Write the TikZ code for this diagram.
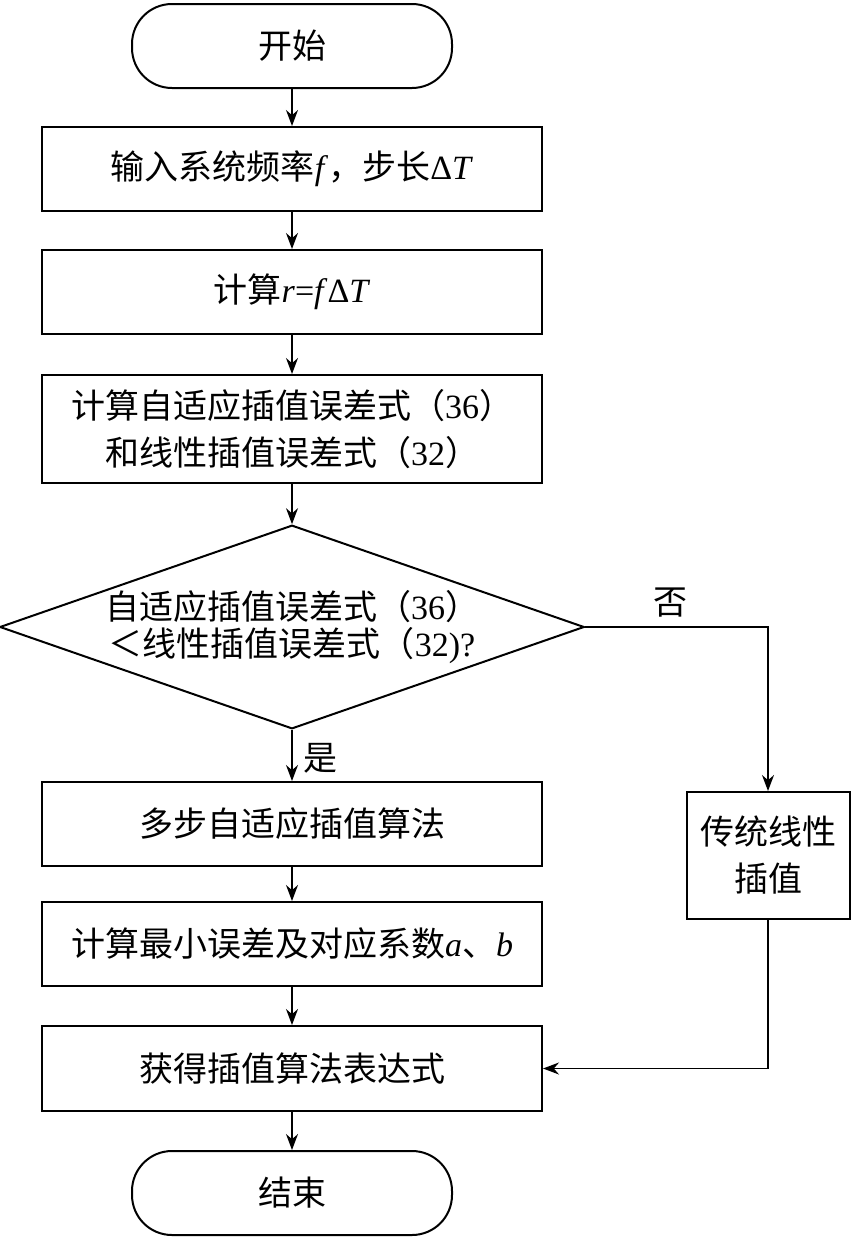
\documentclass[tikz,border=0pt]{standalone}
\usepackage{fontspec}
\setmainfont{Liberation Serif}
\newfontfamily\cjk{Noto Sans CJK SC}
\usetikzlibrary{arrows.meta,shapes.geometric}
\begin{document}
\begin{tikzpicture}[x=1pt,y=-1pt,
 base/.style={draw, line width=2pt, inner sep=0pt, align=center, font=\fontsize{34}{47}\selectfont},
 proc/.style={base, rectangle, minimum width=500pt, minimum height=84pt},
 term/.style={base, rectangle, rounded corners=40pt, minimum width=320pt, minimum height=84pt},
 decision/.style={base, diamond, minimum width=574pt, minimum height=200pt, aspect=2.87, font=\fontsize{34}{37}\selectfont},
 side/.style={base, rectangle, minimum width=163pt, minimum height=127pt},
 arr/.style={line width=1.5pt, -{Stealth[length=16pt,width=12pt]}},
 lbl/.style={font=\fontsize{34}{40}\selectfont, inner sep=0pt}]
\useasboundingbox (0,0) rectangle (852,1237);
\node[term] (start) at (292,46) {\cjk 开始};
\node[proc] (b1) at (292,169) {{\cjk 输入系统频率}\textit{f}{\cjk ，步长}Δ\textit{T}};
\node[proc] (b2) at (292,292) {{\cjk 计算}\textit{r}=\textit{f}Δ\textit{T}};
\node[proc, minimum height=108pt] (b3) at (292,429) {{\cjk 计算自适应插值误差式（}36{\cjk ）}\\{\cjk 和线性插值误差式（}32{\cjk ）}};
\node[decision] (dec) at (292,627) {{\cjk 自适应插值误差式（}36{\cjk ）}\\{\cjk ＜线性插值误差式（}32)?};
\node[proc] (b4) at (292,824) {\cjk 多步自适应插值算法};
\node[proc] (b5) at (292,944) {{\cjk 计算最小误差及对应系数}\textit{a}{\cjk 、}\textit{b}};
\node[proc, minimum height=85pt] (b6) at (292,1068.5) {\cjk 获得插值算法表达式};
\node[term] (end) at (292,1193) {\cjk 结束};
\node[side] (r) at (768,855.5) {{\cjk 传统线性}\\{\cjk 插值}};
\coordinate (corner1) at (768,627);
\coordinate (corner2) at (768,1068.5);
\draw[arr] (start) -- (b1);
\draw[arr] (b1) -- (b2);
\draw[arr] (b2) -- (b3);
\draw[arr] (b3) -- (dec);
\draw[arr] (dec) -- (b4);
\draw[arr] (b4) -- (b5);
\draw[arr] (b5) -- (b6);
\draw[arr] (b6) -- (end);
\draw[arr] (dec.east) -- (corner1) -- (r.north);
\draw[arr] (r.south) -- (corner2) -- (b6.east);
\node[lbl] (yes) at (320,758) {\cjk 是};
\node[lbl] (no) at (670,603) {\cjk 否};
\end{tikzpicture}
\end{document}
